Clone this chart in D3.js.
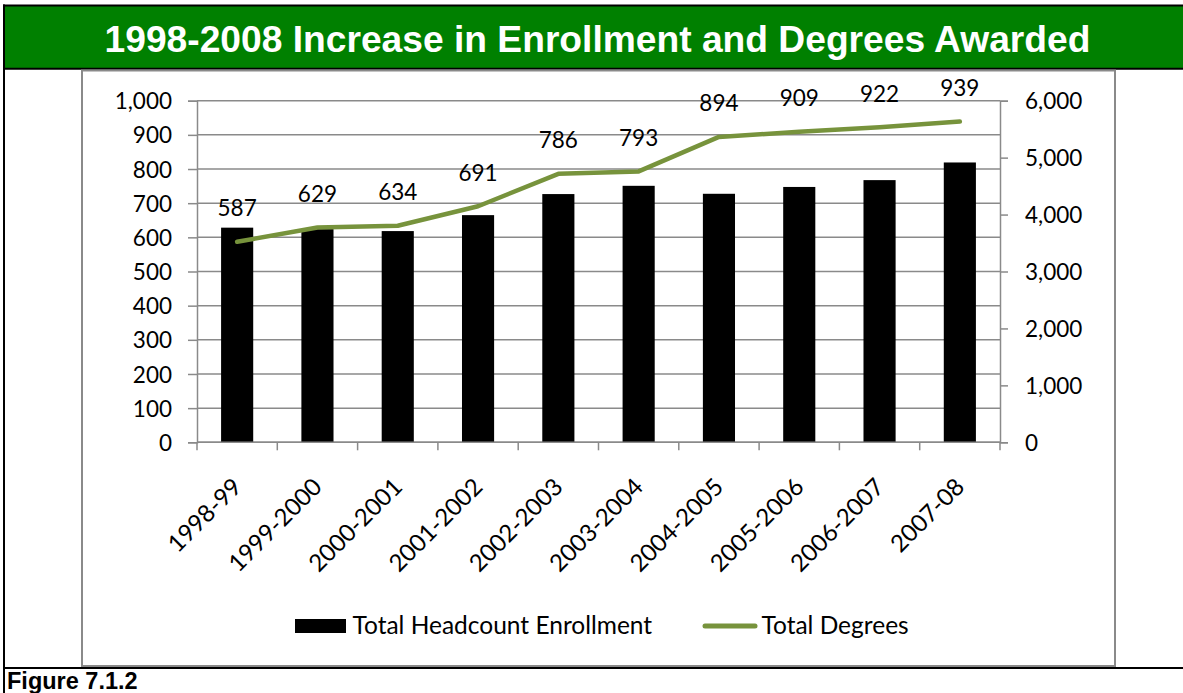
<!DOCTYPE html>
<html>
<head>
<meta charset="utf-8">
<script src="https://cdn.jsdelivr.net/npm/d3@7/dist/d3.min.js"></script>
<style>
  html, body { margin: 0; padding: 0; background: #ffffff; }
  svg { display: block; }
  .lbl { font-family: Lato, "Open Sans", sans-serif; font-size: 22.5px; fill: #000; }
  .cat { font-family: Lato, "Open Sans", sans-serif; font-size: 24px; fill: #000; }
  .leg { font-family: Lato, "Open Sans", sans-serif; font-size: 24.5px; fill: #000; }
</style>
</head>
<body>
<svg id="chart" width="1183" height="693"></svg>
<script>
// Academic years on the category axis
const categories = ["1998-99", "1999-2000", "2000-2001", "2001-2002", "2002-2003",
                    "2003-2004", "2004-2005", "2005-2006", "2006-2007", "2007-08"];
// Total headcount enrollment (bars, right axis)
const enrollment = [3770, 3745, 3710, 3990, 4360, 4505, 4365, 4485, 4605, 4915];
// Total degrees awarded (line, left axis)
const degrees = [587, 629, 634, 691, 786, 793, 894, 909, 922, 939];
// Axis tick values
const leftTicks = [0, 100, 200, 300, 400, 500, 600, 700, 800, 900, 1000];
const rightTicks = [0, 1000, 2000, 3000, 4000, 5000, 6000];
// Text
const seriesNames = ["Total Headcount Enrollment", "Total Degrees"];
const titleText = "1998-2008 Increase in Enrollment and Degrees Awarded";
const captionText = "Figure 7.1.2";

const svg = d3.select("#chart");
const W = 1183, H = 693;
const gridColor = "#8a8a8a";
const lineColor = "#77933c";

// Plot area bounds
const plot = { left: 197, right: 1000, top: 100.7, bottom: 442.3 };

// ---- frame: header band, outer borders, chart area border ----
svg.append("rect").attr("x", 4).attr("y", 5.5).attr("width", W).attr("height", 63)
  .attr("fill", "#008000");
svg.append("line").attr("x1", 3).attr("x2", W).attr("y1", 5.5).attr("y2", 5.5)
  .attr("stroke", "#000").attr("stroke-width", 2);
svg.append("line").attr("x1", 3).attr("x2", W).attr("y1", 68.8).attr("y2", 68.8)
  .attr("stroke", "#000").attr("stroke-width", 2);
svg.append("line").attr("x1", 4).attr("x2", 4).attr("y1", 4.5).attr("y2", H)
  .attr("stroke", "#000").attr("stroke-width", 2);
svg.append("rect").attr("x", 82).attr("y", 70.5).attr("width", 1033).attr("height", 595.5)
  .attr("fill", "none").attr("stroke", gridColor).attr("stroke-width", 2);
svg.append("line").attr("x1", 3).attr("x2", W).attr("y1", 668).attr("y2", 668)
  .attr("stroke", "#000").attr("stroke-width", 2);

svg.append("text").attr("x", 597.5).attr("y", 52).attr("text-anchor", "middle")
  .attr("font-family", "'Liberation Sans', Arial, sans-serif").attr("font-weight", "bold")
  .attr("font-size", 37.2).attr("fill", "#ffffff").text(titleText);

svg.append("text").attr("x", 7).attr("y", 689)
  .attr("font-family", "'Liberation Sans', Arial, sans-serif").attr("font-weight", "bold")
  .attr("font-size", 23.5).attr("fill", "#000").text(captionText);

// ---- scales ----
const x = d3.scaleBand().domain(categories).range([plot.left, plot.right])
  .paddingInner(0.6).paddingOuter(0.3);
const step = x.step();
const yL = d3.scaleLinear().domain([0, 1000]).range([plot.bottom, plot.top]);
const yR = d3.scaleLinear().domain([0, 6000]).range([plot.bottom, plot.top]);

// ---- gridlines ----
svg.append("g").selectAll("line").data(leftTicks).join("line")
  .attr("x1", plot.left).attr("x2", plot.right)
  .attr("y1", d => yL(d)).attr("y2", d => yL(d))
  .attr("stroke", gridColor).attr("stroke-width", 1.5);

// ---- bars ----
svg.append("g").selectAll("rect").data(enrollment).join("rect")
  .attr("x", (d, i) => x(categories[i]))
  .attr("width", x.bandwidth())
  .attr("y", d => yR(d))
  .attr("height", d => yR(0) - yR(d))
  .attr("fill", "#000");

// ---- axes ----
const fmt = d3.format(",");
const gL = svg.append("g").attr("transform", `translate(${plot.left},0)`)
  .call(d3.axisLeft(yL).tickValues(leftTicks).tickFormat(fmt).tickSize(9).tickPadding(16));
const gR = svg.append("g").attr("transform", `translate(${plot.right},0)`)
  .call(d3.axisRight(yR).tickValues(rightTicks).tickFormat(fmt).tickSize(8).tickPadding(17));
[gL, gR].forEach(g => {
  g.select(".domain").attr("stroke", gridColor).attr("stroke-width", 1.5);
  g.selectAll(".tick line").attr("stroke", gridColor).attr("stroke-width", 1.5);
  g.selectAll(".tick text").attr("class", "lbl").attr("dy", "0.36em");
});

// category axis with ticks on band boundaries
const boundaries = categories.map(c => x(c) - step * x.paddingOuter())
  .concat([plot.right]);
svg.append("line").attr("x1", plot.left).attr("x2", plot.right)
  .attr("y1", plot.bottom).attr("y2", plot.bottom)
  .attr("stroke", gridColor).attr("stroke-width", 1.5);
svg.append("g").selectAll("line").data(boundaries).join("line")
  .attr("x1", d => d).attr("x2", d => d)
  .attr("y1", plot.bottom).attr("y2", plot.bottom + 8)
  .attr("stroke", gridColor).attr("stroke-width", 1.5);
svg.append("g").selectAll("text").data(categories).join("text")
  .attr("class", "cat").attr("text-anchor", "end")
  .attr("transform", d => `translate(${x(d) + x.bandwidth() / 2 + 6},${plot.bottom + 46}) rotate(-45)`)
  .text(d => d);

// ---- degrees line ----
const line = d3.line()
  .x((d, i) => x(categories[i]) + x.bandwidth() / 2)
  .y(d => yL(d));
svg.append("path").datum(degrees).attr("d", line)
  .attr("fill", "none").attr("stroke", lineColor).attr("stroke-width", 4.5)
  .attr("stroke-linejoin", "round").attr("stroke-linecap", "round");

svg.append("g").selectAll("text").data(degrees).join("text")
  .attr("class", "lbl").attr("text-anchor", "middle")
  .attr("x", (d, i) => x(categories[i]) + x.bandwidth() / 2)
  .attr("y", d => yL(d) - 25.5)
  .text(d => d);

// ---- legend ----
const lg = svg.append("g");
lg.append("rect").attr("x", 295).attr("y", 619).attr("width", 51).attr("height", 14).attr("fill", "#000");
lg.append("text").attr("class", "leg").attr("x", 352.5).attr("y", 633.5).text(seriesNames[0]);
lg.append("line").attr("x1", 705).attr("x2", 755).attr("y1", 626).attr("y2", 626)
  .attr("stroke", lineColor).attr("stroke-width", 5).attr("stroke-linecap", "round");
lg.append("text").attr("class", "leg").attr("x", 761.5).attr("y", 633.5).text(seriesNames[1]);
</script>
</body>
</html>
